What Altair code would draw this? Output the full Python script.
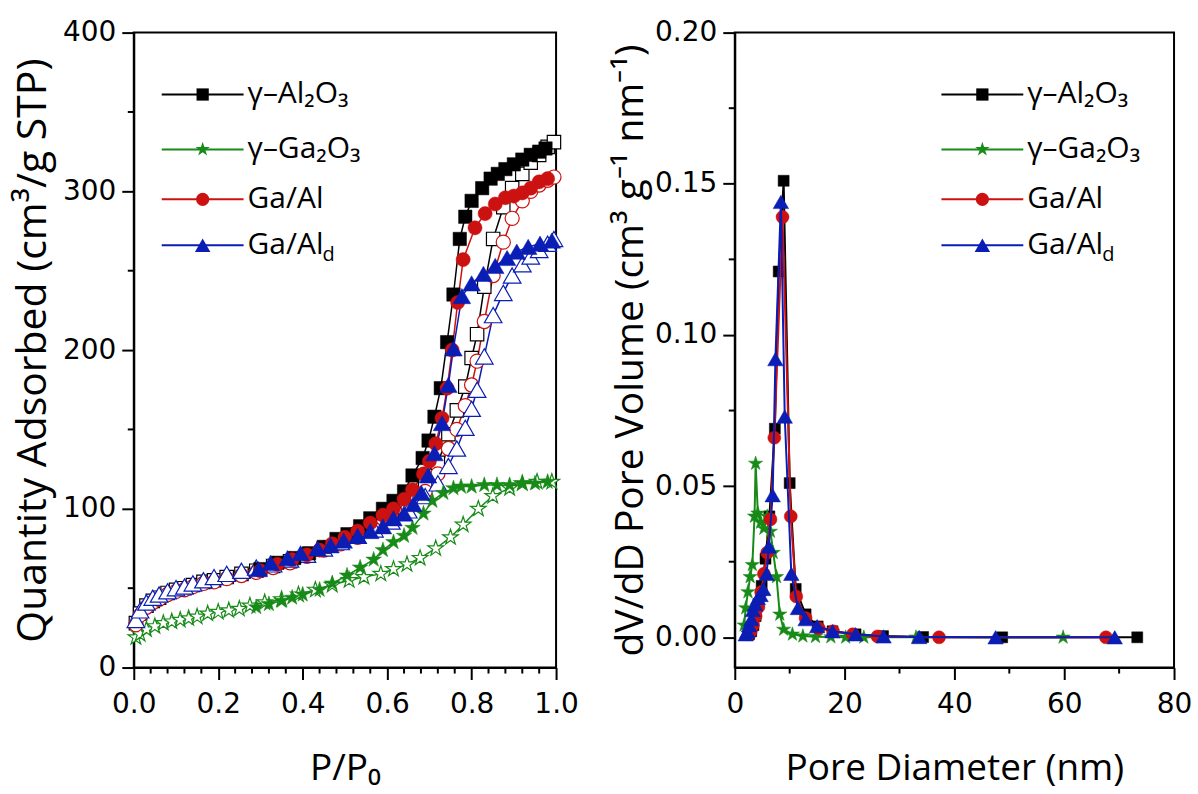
import altair as alt
import pandas as pd

# ---------------- data ----------------
keys = ["Al2O3", "Ga2O3", "GaAl", "GaAld"]
colors = ["#000000", "#178a17", "#cc1111", "#0a1db4"]

# Isotherms: adsorption (open symbols) and desorption (filled symbols)
al_ads_p = [0.005, 0.015, 0.03, 0.045, 0.06, 0.08, 0.10, 0.12, 0.14, 0.165, 0.19, 0.22, 0.255, 0.29, 0.33,
            0.37, 0.41, 0.45, 0.49, 0.53, 0.57, 0.61, 0.65, 0.69, 0.72, 0.745, 0.765, 0.785, 0.80, 0.813,
            0.83, 0.851, 0.875, 0.896, 0.92, 0.94, 0.96, 0.98, 0.995]
al_ads_v = [28, 34, 39, 42, 44, 47, 49, 50, 52, 54, 55, 57, 59, 61, 64,
            67, 71, 75, 79, 84, 89, 96, 105, 116, 129, 147, 162, 177, 195, 210,
            240, 270, 290, 302, 311, 318, 323, 328, 331]
al_des_p = [0.975, 0.96, 0.94, 0.92, 0.90, 0.88, 0.862, 0.845, 0.825, 0.80, 0.785, 0.772, 0.757, 0.742,
            0.727, 0.712, 0.698, 0.684, 0.66, 0.64, 0.615, 0.59, 0.56, 0.536, 0.506, 0.48, 0.45, 0.415,
            0.38, 0.34, 0.30]
al_des_v = [327, 325, 323, 320, 317, 314, 311, 308, 302, 294, 284, 270, 235, 205,
            176, 158, 143, 132, 121, 111, 105, 100, 94, 89, 84, 81, 76, 72,
            69, 66, 62]

ga_ads_p = [0.005, 0.015, 0.03, 0.05, 0.07, 0.09, 0.11, 0.13, 0.15, 0.175, 0.2, 0.225, 0.25, 0.275, 0.31,
            0.35, 0.39, 0.43, 0.47, 0.51, 0.545, 0.585, 0.615, 0.647, 0.678, 0.715, 0.75, 0.78, 0.816,
            0.85, 0.89, 0.92, 0.955, 0.99]
ga_ads_v = [19, 21, 24, 26, 28, 29, 30, 31, 32, 34, 35, 36, 37, 39, 41,
            43, 46, 49, 52, 55, 57, 59, 62, 65, 69, 75, 82, 90, 100,
            108, 113, 116, 117, 117]
ga_des_p = [0.98, 0.95, 0.92, 0.89, 0.86, 0.83, 0.80, 0.775, 0.757, 0.733, 0.707, 0.686, 0.66, 0.64,
            0.615, 0.59, 0.568, 0.536, 0.505, 0.47, 0.44, 0.40, 0.375, 0.35, 0.32, 0.29]
ga_des_v = [117, 116, 116, 115, 115, 115, 114, 114, 113, 110, 105, 97, 88, 83,
            79, 74, 68, 63, 58, 53, 49, 46, 44, 42, 40, 38]

gaal_ads_p = al_ads_p
gaal_ads_v = [27, 33, 38, 41, 43, 46, 48, 49, 51, 53, 54, 56, 58, 60, 63,
              66, 70, 74, 78, 82, 87, 93, 101, 111, 122, 138, 150, 165, 178, 193,
              218, 247, 268, 283, 294, 300, 304, 307, 309]
gaal_des_p = [0.98, 0.96, 0.94, 0.92, 0.90, 0.88, 0.856, 0.832, 0.808, 0.78, 0.767, 0.754, 0.742, 0.73,
              0.715, 0.70, 0.686, 0.66, 0.64, 0.615, 0.59, 0.56, 0.53, 0.50, 0.47, 0.44, 0.41, 0.375,
              0.34, 0.30]
gaal_des_v = [308, 306, 302, 299, 297, 296, 292, 286, 277, 257, 230, 200, 176, 157,
              141, 130, 122, 112, 106, 100, 96, 91, 86, 82, 78, 74, 71, 68,
              65, 61]

gaald_ads_p = al_ads_p
gaald_ads_v = [30, 36, 41, 44, 46, 48, 50, 51, 53, 55, 57, 59, 61, 63, 65,
               68, 71, 75, 79, 83, 87, 92, 99, 108, 116, 127, 138, 151, 163, 175,
               196, 222, 236, 247, 254, 259, 263, 267, 270]
gaald_des_p = [0.99, 0.962, 0.934, 0.907, 0.884, 0.856, 0.828, 0.80, 0.777, 0.757, 0.745, 0.73, 0.712,
               0.697, 0.681, 0.662, 0.64, 0.615, 0.59, 0.56, 0.53, 0.497, 0.466, 0.435, 0.395, 0.364,
               0.324, 0.296]
gaald_des_v = [269, 267, 265, 262, 258, 253, 248, 242, 234, 201, 178, 154, 135,
               121, 110, 103, 97, 94, 89, 86, 83, 80, 77, 75, 72, 69,
               66, 62]

# Pore size distributions
al_psd_d = [2.6, 3.0, 3.4, 3.8, 4.3, 4.9, 5.6, 6.3, 7.3, 8.0, 8.9, 10.0, 11.1, 12.9, 15.1, 17.8,
            22.0, 27.0, 34.3, 48.7, 73.3]
al_psd_v = [0.001, 0.002, 0.004, 0.007, 0.011, 0.017, 0.026, 0.040, 0.069, 0.121, 0.151, 0.051, 0.016,
            0.0076, 0.0036, 0.002, 0.001, 0.0004, 0.0001, 0.0, 0.0]
ga_psd_d = [1.7, 2.0, 2.4, 2.8, 3.2, 3.6, 3.8, 4.2, 4.7, 5.3, 5.9, 6.5, 7.0, 7.6, 8.2, 8.9, 10.5,
            12.4, 14.7, 17.5, 20.2, 23.5, 33.0, 59.8]
ga_psd_v = [0.004, 0.0097, 0.015, 0.020, 0.024, 0.040, 0.0575, 0.041, 0.038, 0.036, 0.040, 0.035,
            0.028, 0.020, 0.0076, 0.0026, 0.001, 0.0004, 0.0002, 0.0001, 0.0, 0.0, 0.0, 0.0]
gaal_psd_d = [2.5, 2.9, 3.3, 3.8, 4.3, 4.8, 5.3, 5.9, 6.5, 7.2, 8.7, 10.2, 11.2, 12.9, 15.3, 17.9,
              21.5, 26.0, 37.2, 67.6]
gaal_psd_v = [0.001, 0.002, 0.004, 0.007, 0.010, 0.015, 0.021, 0.028, 0.039, 0.066, 0.139, 0.040,
              0.0135, 0.0064, 0.003, 0.002, 0.001, 0.0003, 0.0, 0.0]
gaald_psd_d = [2.0, 2.3, 2.6, 3.0, 3.3, 3.7, 4.2, 4.7, 5.2, 5.8, 6.2, 6.9, 7.4, 8.4, 9.1, 10.3, 11.5,
               12.9, 15.0, 17.8, 22.0, 27.1, 33.6, 47.5, 69.2]
gaald_psd_v = [0.001, 0.002, 0.004, 0.006, 0.009, 0.011, 0.013, 0.014, 0.016, 0.021, 0.030, 0.047,
               0.092, 0.144, 0.073, 0.021, 0.0097, 0.006, 0.0037, 0.002, 0.001, 0.0003, 0.0001, 0.0, 0.0]

left_x_ticks = [0.0, 0.2, 0.4, 0.6, 0.8, 1.0]
left_x_minor = [0.04, 0.08, 0.12, 0.16, 0.24, 0.28, 0.32, 0.36, 0.44, 0.48, 0.52, 0.56,
                0.64, 0.68, 0.72, 0.76, 0.84, 0.88, 0.92, 0.96]
left_y_ticks = [0, 100, 200, 300, 400]
left_y_minor = [50, 150, 250, 350]
right_x_ticks = [0, 20, 40, 60, 80]
right_x_minor = [10, 30, 50, 70]
right_y_ticks = [0.0, 0.05, 0.10, 0.15, 0.20]
right_y_minor = [0.025, 0.075, 0.125, 0.175]

legend_labels = ["γ–Al₂O₃", "γ–Ga₂O₃", "Ga/Al", "Ga/Al"]

# ---------------- styling ----------------
STAR = ("M0,-1L0.2245,-0.309L0.951,-0.309L0.363,0.118L0.588,0.809L0,0.382L-0.588,0.809"
        "L-0.363,0.118L-0.951,-0.309L-0.2245,-0.309Z")
shapes = ["square", STAR, "circle", "triangle-up"]
size_left = [180, 270, 200, 310]
size_right = [121, 225, 170, 240]
size_leg = [150, 230, 175, 240]

W1, W2, H = 423, 440, 636
LABEL_FONT = "DejaVu Sans"
TITLE_FONT = "Open Sans"
LEG_FS = 30


def frame(xs, ys):
    return pd.DataFrame({"x": xs, "y": ys, "i": list(range(len(xs)))})


def legend_layers(x0):
    rows = [62, 117, 167, 213]
    out = []
    one = pd.DataFrame({"a": [0]})
    for k in range(4):
        yy = rows[k]
        out.append(alt.Chart(one).mark_rule(color=colors[k], strokeWidth=2).encode(
            x=alt.value(x0), x2=alt.value(x0 + 82), y=alt.value(yy)))
        out.append(alt.Chart(one).mark_point(shape=shapes[k], size=size_leg[k], filled=True,
                                             color=colors[k], opacity=1).encode(
            x=alt.value(x0 + 41), y=alt.value(yy)))
        out.append(alt.Chart(one).mark_text(text=legend_labels[k], align="left", baseline="middle",
                                            font=TITLE_FONT, fontSize=LEG_FS, color="black").encode(
            x=alt.value(x0 + 86), y=alt.value(yy)))
    out.append(alt.Chart(one).mark_text(text="d", align="left", baseline="middle",
                                        font=TITLE_FONT, fontSize=20, color="black").encode(
        x=alt.value(x0 + 86 + 75), y=alt.value(rows[3] + 10)))
    return out


# ---------------- left panel ----------------
xl = alt.X("x:Q", scale=alt.Scale(domain=[0, 1], nice=False, zero=False),
           axis=alt.Axis(values=left_x_ticks, format=".1f", title="P/P₀", labelPadding=11,
                         labelFlush=False, titlePadding=32, titleFontSize=37))
yl = alt.Y("y:Q", scale=alt.Scale(domain=[0, 400], nice=False, zero=False),
           axis=alt.Axis(values=left_y_ticks, format="d", title="Quantity Adsorbed (cm³/g STP)",
                         labelPadding=6, labelFlush=False, titlePadding=8, titleFontSize=41))

iso = [
    (al_ads_p, al_ads_v, al_des_p, al_des_v),
    (ga_ads_p, ga_ads_v, ga_des_p, ga_des_v),
    (gaal_ads_p, gaal_ads_v, gaal_des_p, gaal_des_v),
    (gaald_ads_p, gaald_ads_v, gaald_des_p, gaald_des_v),
]

left = []
# lines first
for k, (ap, av, dp, dv) in enumerate(iso):
    c = colors[k]
    left.append(alt.Chart(frame(dp, dv)).mark_line(color=c, strokeWidth=1.5).encode(x=xl, y=yl, order="i:Q"))
    left.append(alt.Chart(frame(ap, av)).mark_line(color=c, strokeWidth=1.5).encode(x=xl, y=yl, order="i:Q"))
# open symbols (adsorption)
for k, (ap, av, dp, dv) in enumerate(iso):
    c = colors[k]
    left.append(alt.Chart(frame(ap, av)).mark_point(shape=shapes[k], size=size_left[k], filled=True,
                                                    fill="white", stroke=c, strokeWidth=1.2,
                                                    opacity=1).encode(x=xl, y=yl))
# filled symbols (desorption)
for k, (ap, av, dp, dv) in enumerate(iso):
    c = colors[k]
    left.append(alt.Chart(frame(dp, dv)).mark_point(shape=shapes[k], size=size_left[k], filled=True,
                                                    fill=c, stroke=c, strokeWidth=0.5,
                                                    opacity=1).encode(x=xl, y=yl))

left.append(alt.Chart(pd.DataFrame({"x": left_x_minor})).mark_rule(color="black", strokeWidth=2).encode(
    x=xl, y=alt.value(H), y2=alt.value(H + 6)))
left.append(alt.Chart(pd.DataFrame({"y": left_y_minor})).mark_rule(color="black", strokeWidth=2).encode(
    y=yl, x=alt.value(0), x2=alt.value(-6)))
left += legend_layers(28)

left_chart = alt.layer(*left).properties(width=W1, height=H)

# ---------------- right panel ----------------
xr = alt.X("x:Q", scale=alt.Scale(domain=[0, 80], nice=False, zero=False),
           axis=alt.Axis(values=right_x_ticks, format="d", title="Pore Diameter (nm)", labelPadding=11,
                         labelFlush=False, titlePadding=32, titleFontSize=37))
yr = alt.Y("y:Q", scale=alt.Scale(domain=[-0.01, 0.20], nice=False, zero=False),
           axis=alt.Axis(values=right_y_ticks, format=".2f", title="dV/dD Pore Volume (cm³ g⁻¹ nm⁻¹)",
                         labelPadding=6, labelFlush=False, titlePadding=4, titleFontSize=39))

psd = [(al_psd_d, al_psd_v), (ga_psd_d, ga_psd_v), (gaal_psd_d, gaal_psd_v), (gaald_psd_d, gaald_psd_v)]
right = []
for k, (d, v) in enumerate(psd):
    c = colors[k]
    df = frame(d, v)
    right.append(alt.Chart(df).mark_line(color=c, strokeWidth=2).encode(x=xr, y=yr, order="i:Q"))
    right.append(alt.Chart(df).mark_point(shape=shapes[k], size=size_right[k], filled=True, fill=c,
                                          stroke=c, strokeWidth=0.5, opacity=1).encode(x=xr, y=yr))

right.append(alt.Chart(pd.DataFrame({"x": right_x_minor})).mark_rule(color="black", strokeWidth=2).encode(
    x=xr, y=alt.value(H), y2=alt.value(H + 6)))
right.append(alt.Chart(pd.DataFrame({"y": right_y_minor})).mark_rule(color="black", strokeWidth=2).encode(
    y=yr, x=alt.value(0), x2=alt.value(-6)))
right += legend_layers(207)

right_chart = alt.layer(*right).properties(width=W2, height=H)

chart = alt.hconcat(left_chart, right_chart, spacing=30).properties(
    padding={"left": 11, "top": 17, "right": 5, "bottom": 4},
    background="white",
).configure_view(stroke="black", strokeWidth=2).configure_axis(
    domainColor="black", domainWidth=2, tickColor="black", tickWidth=2, tickSize=12,
    labelFont=LABEL_FONT, labelFontSize=28, labelColor="black",
    titleFont=TITLE_FONT, titleFontWeight="normal", titleColor="black",
    grid=False
)

chart.save("out.html", embed_options={"renderer": "svg", "actions": False})
